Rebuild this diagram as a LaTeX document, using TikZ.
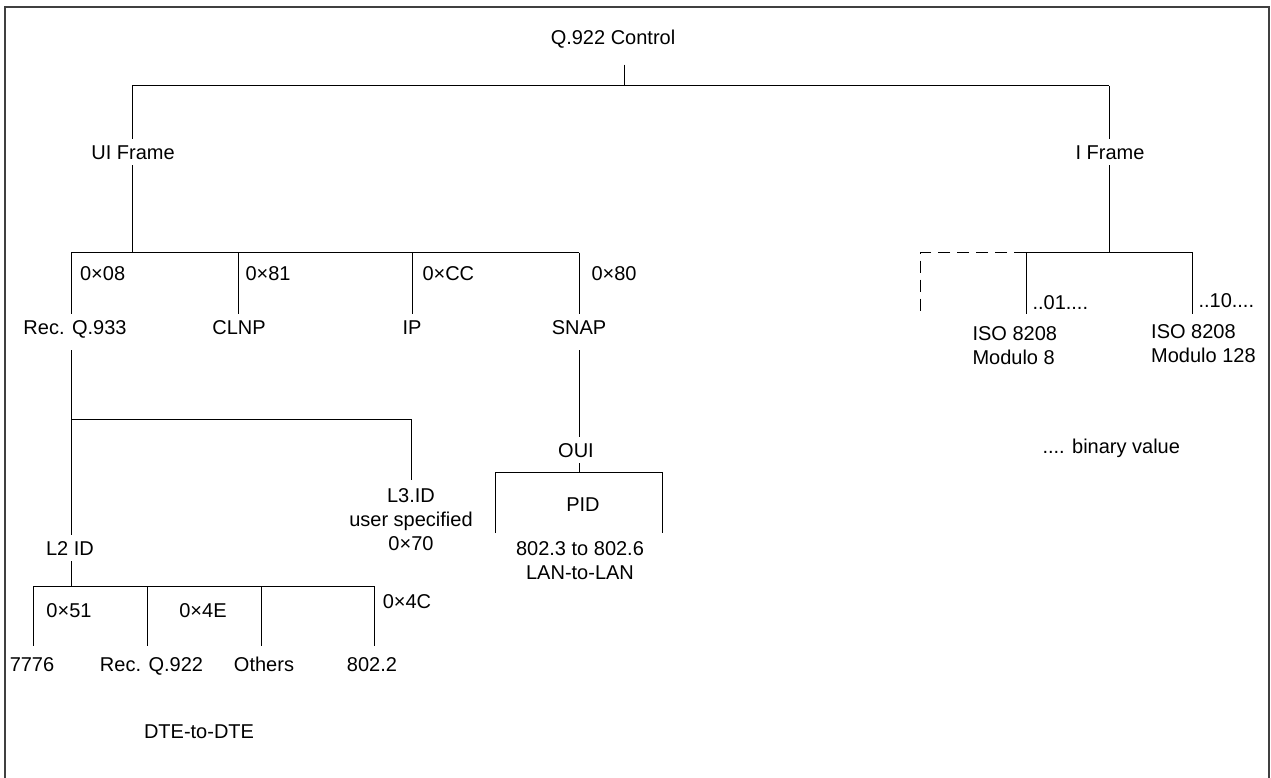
\documentclass[tikz,border=0pt]{standalone}
\usepackage{fontspec}
\setmainfont{Liberation Sans}
\usetikzlibrary{calc}
\newcommand{\labfont}{\fontsize{20}{24}\selectfont}
\begin{document}
\begin{tikzpicture}[x=1pt,y=-1pt,line width=1pt,
  lab/.style={inner sep=0pt,font=\labfont,text height=14.3pt,text depth=0pt},
  gapped/.style={lab,outer ysep=6pt},
  leaf/.style={lab,outer ysep=11pt},
  ml/.style={inner sep=0pt,font=\labfont,align=center},
  mlleft/.style={inner sep=0pt,font=\labfont,align=left,outer ysep=13pt,anchor=north west},
  frameline/.style={line width=2pt,draw=black!75},
  conn/.style={draw=black,line width=1pt},
  dashconn/.style={conn,dash pattern=on 12pt off 7pt}]
\useasboundingbox (0,0) rectangle (1271,778);
\draw[frameline] (5,790) -- (5,7.5) -- (1269,7.5) -- (1269,790);

% root
\node[lab] (root) at (613,37) {Q.922 Control};
\coordinate (j0) at (624.5,86);
\coordinate (jl) at (132,86);
\coordinate (jr) at (1109,86);
\draw[conn] ($(root.south -| j0)+(0,20)$) -- (j0);
\draw[conn] (jl) -- (jr);

% UI frame branch
\node[gapped] (uif) at (133,152) {UI Frame};
\coordinate (j1) at (132,252.7);
\draw[conn] (jl) -- (jl |- uif.north);
\draw[conn] (jl |- uif.south) -- (j1);

\coordinate (b1) at (71.4,252.7);
\coordinate (b2) at (238,252.7);
\coordinate (b3) at (412,252.7);
\coordinate (b4) at (579,252.7);
\draw[conn] (b1) -- (b4);

\node[lab,anchor=west] (h08) at (79.6,273) {0×08};
\node[lab,anchor=west] (h81) at (245,273) {0×81};
\node[lab,anchor=west] (hcc) at (422,273) {0×CC};
\node[lab,anchor=west] (h80) at (591,273) {0×80};

\node[gapped] (rec) at (75,327) {Rec. Q.933};
\node[gapped] (clnp) at (239,327) {CLNP};
\node[gapped] (ip) at (412,327) {IP};
\node[gapped] (snap) at (579,327) {SNAP};

\draw[conn] (b1) -- (b1 |- rec.north);
\draw[conn] (b2) -- (b2 |- clnp.north);
\draw[conn] (b3) -- (b3 |- ip.north);
\draw[conn] (b4) -- (b4 |- snap.north);

% Rec. Q.933 subtree
\coordinate (l3j) at (71.4,419.3);
\coordinate (l3c) at (411.6,419.3);
\draw[conn] ($(b1 |- rec.south)+(0,10)$) -- (l3j);
\draw[conn] (l3j) -- (l3c);
\node[ml,anchor=north,outer ysep=9pt] (l3) at (411,479.5) {L3.ID\\user specified\\0×70};
\draw[conn] (l3c) -- (l3c |- l3.north);

\node[gapped] (l2) at (70,548) {L2 ID};
\coordinate (l2j) at (71.4,586);
\draw[conn] (l3j) -- (l3j |- l2.north);
\draw[conn] (l3j |- l2.south) -- (l2j);

\coordinate (c1) at (33,586);
\coordinate (c2) at (147,586);
\coordinate (c3) at (261,586);
\coordinate (c4) at (374,586);
\draw[conn] (c1) -- (c4);

\node[lab] (h51) at (69,610) {0×51};
\node[lab] (h4e) at (203,610) {0×4E};
\node[lab] (h4c) at (407,601) {0×4C};

\node[leaf] (n7776) at (32,664) {7776};
\node[leaf] (rq922) at (151.5,664) {Rec. Q.922};
\node[leaf] (others) at (264,664) {Others};
\node[leaf] (n8022) at (372,664) {802.2};
\draw[conn] (c1) -- (c1 |- n7776.north);
\draw[conn] (c2) -- (c2 |- rq922.north);
\draw[conn] (c3) -- (c3 |- others.north);
\draw[conn] (c4) -- (c4 |- n8022.north);

\node[lab] (dte) at (199,731) {DTE-to-DTE};

% SNAP subtree
\node[gapped] (oui) at (576,450) {OUI};
\coordinate (pj) at (579,472);
\draw[conn] ($(b4 |- snap.south)+(0,10)$) -- (b4 |- oui.north);
\draw[conn] (b4 |- oui.south) -- (pj);
\coordinate (p1) at (495,472);
\coordinate (p2) at (662.7,472);
\coordinate (p1e) at (495,533);
\coordinate (p2e) at (662.7,533);
\draw[conn] (p1e) -- (p1) -- (p2) -- (p2e);
\node[lab] (pid) at (583,504) {PID};
\node[ml,anchor=north] (lan) at (580,540.8) {802.3 to 802.6\\LAN-to-LAN};

% I frame branch
\node[gapped] (ifr) at (1110,152) {I Frame};
\coordinate (k0) at (1109,252.7);
\draw[conn] (jr) -- (jr |- ifr.north);
\draw[conn] (jr |- ifr.south) -- (k0);
\coordinate (k1) at (1026,252.7);
\coordinate (k2) at (1192.7,252.7);
\coordinate (kd) at (920,252.7);
\coordinate (kde) at (920,313);
\draw[conn] (k1) -- (k2);
\draw[dashconn] (k1) -- (kd) -- (kde);

\node[mlleft] (iso8) at (972,313.8) {ISO 8208\\Modulo 8};
\node[mlleft] (iso128) at (1150.7,311.5) {ISO 8208\\Modulo 128};
\draw[conn] (k1) -- (k1 |- iso8.north);
\draw[conn] (k2) -- (k2 |- iso8.north);

\node[lab,anchor=west] (v01) at (1032,302) {..01....};
\node[lab,anchor=west] (v10) at (1198,300.7) {..10....};
\node[lab,anchor=west] (bin) at (1042,446.7) {.... binary value};
\end{tikzpicture}
\end{document}
